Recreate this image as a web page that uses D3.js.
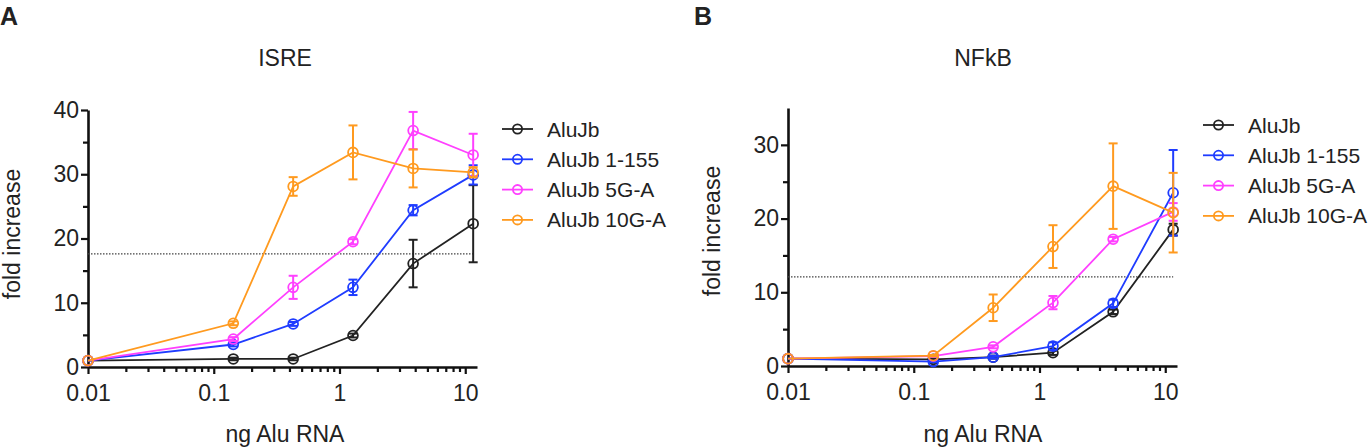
<!DOCTYPE html>
<html>
<head>
<meta charset="utf-8">
<script src="https://d3js.org/d3.v7.min.js"></script>
<style>
  body { margin: 0; background: #fff; }
  svg text { font-family: "Liberation Sans", Arial, sans-serif; fill: #222; }
</style>
</head>
<body>
<div id="chart"></div>
<script>
// dose of Alu RNA (ng), 3-fold dilutions plus the 0.01 control point
var doses = [0.01, 0.143, 0.428, 1.28, 3.85, 11.56];

var seriesNames = ['AluJb', 'AluJb 1-155', 'AluJb 5G-A', 'AluJb 10G-A'];
var seriesColors = ['#222222', '#1f3cff', '#ff40ff', '#ff9a1f'];

// ISRE panel (A)
var isreAluJb = [1, 1.25, 1.25, 4.9, 16.1, 22.3];
var isreAluJbErr = [0, 0.2, 0.2, 0.3, 3.7, 6.0];
var isre1_155 = [1, 3.5, 6.7, 12.4, 24.4, 29.9];
var isre1_155Err = [0, 0.3, 0.3, 1.2, 0.8, 1.5];
var isre5GA = [1, 4.35, 12.4, 19.5, 36.8, 33.0];
var isre5GAErr = [0, 0.3, 1.8, 0.4, 2.9, 3.3];
var isre10GA = [1, 6.8, 28.1, 33.4, 30.9, 30.3];
var isre10GAErr = [0, 0.3, 1.45, 4.2, 2.95, 0.8];
var isreCutoff = 17.6;

// NFkB panel (B)
var nfkbAluJb = [1, 0.9, 1.2, 1.8, 7.35, 18.5];
var nfkbAluJbErr = [0, 0.1, 0.2, 0.3, 0.3, 0.8];
var nfkb1_155 = [1, 0.6, 1.2, 2.7, 8.5, 23.5];
var nfkb1_155Err = [0, 0.1, 0.2, 0.5, 0.5, 5.8];
var nfkb5GA = [1, 1.35, 2.6, 8.6, 17.2, 20.9];
var nfkb5GAErr = [0, 0.1, 0.2, 0.9, 0.3, 1.2];
var nfkb10GA = [1, 1.4, 7.9, 16.2, 24.4, 20.8];
var nfkb10GAErr = [0, 0.1, 1.8, 2.9, 5.8, 5.4];
var nfkbCutoff = 12.1;

var xTickValues = [0.01, 0.1, 1, 10];
var xTickLabels = ['0.01', '0.1', '1', '10'];

var svg = d3.select("#chart")
  .append("svg")
  .attr("width", 1369)
  .attr("height", 448);

function paintPanel(opt) {
  var g = svg.append("g");

  var x = d3.scaleLog()
    .domain([0.01, 12.4])
    .range([opt.left, opt.left + 389]);
  var y = d3.scaleLinear()
    .domain([0, opt.yMax])
    .range([opt.bottom, opt.top]);

  // minor ticks first, then major axes on top
  var minorX = [];
  [0.01, 0.1, 1].forEach(function (d) {
    for (var k = 2; k <= 9; k++) minorX.push(d * k);
  });
  g.append("g")
    .attr("transform", "translate(0," + opt.bottom + ")")
    .call(d3.axisBottom(x).tickValues(minorX).tickSize(5).tickFormat(""))
    .call(function (a) { a.select(".domain").remove(); });

  var minorY = d3.range(5, opt.yMax, 10);
  g.append("g")
    .attr("transform", "translate(" + opt.left + ",0)")
    .call(d3.axisLeft(y).tickValues(minorY).tickSize(5).tickFormat(""))
    .call(function (a) { a.select(".domain").remove(); });

  var xAxis = g.append("g")
    .attr("transform", "translate(0," + opt.bottom + ")")
    .call(d3.axisBottom(x)
      .tickValues(xTickValues)
      .tickFormat(function (d, i) { return xTickLabels[i]; })
      .tickSize(7).tickSizeOuter(0).tickPadding(11));

  var yAxis = g.append("g")
    .attr("transform", "translate(" + opt.left + ",0)")
    .call(d3.axisLeft(y)
      .tickValues(opt.yTicks)
      .tickSize(7).tickSizeOuter(0).tickPadding(2));

  g.selectAll(".domain").attr("stroke", "#111").attr("stroke-width", 2.6);
  g.selectAll(".tick line").attr("stroke", "#111").attr("stroke-width", 2.2);
  g.selectAll(".tick text")
    .attr("font-size", 23)
    .attr("fill", "#222")
    .attr("font-family", '"Liberation Sans", Arial, sans-serif');

  // dotted cutoff line
  g.append("line")
    .attr("x1", x(0.01)).attr("x2", x(doses[doses.length - 1]))
    .attr("y1", y(opt.cutoff)).attr("y2", y(opt.cutoff))
    .attr("stroke", "#444")
    .attr("stroke-width", 1.2)
    .attr("stroke-dasharray", "1.5,1.5");

  opt.series.forEach(function (s, i) {
    var color = seriesColors[i];
    var pts = doses.map(function (d, j) {
      return { x: d, y: s.values[j], e: s.err[j] };
    });
    var sg = g.append("g");

    // error bars
    var eb = sg.selectAll(".err").data(pts.filter(function (p) { return p.e > 0; }))
      .enter().append("g");
    eb.append("line")
      .attr("x1", function (p) { return x(p.x); })
      .attr("x2", function (p) { return x(p.x); })
      .attr("y1", function (p) { return y(p.y - p.e); })
      .attr("y2", function (p) { return y(p.y + p.e); })
      .attr("stroke", color).attr("stroke-width", 2);
    [-1, 1].forEach(function (sign) {
      eb.append("line")
        .attr("x1", function (p) { return x(p.x) - 4.5; })
        .attr("x2", function (p) { return x(p.x) + 4.5; })
        .attr("y1", function (p) { return y(p.y + sign * p.e); })
        .attr("y2", function (p) { return y(p.y + sign * p.e); })
        .attr("stroke", color).attr("stroke-width", 2);
    });

    sg.append("path")
      .datum(pts)
      .attr("fill", "none")
      .attr("stroke", color)
      .attr("stroke-width", 1.8)
      .attr("d", d3.line()
        .x(function (p) { return x(p.x); })
        .y(function (p) { return y(p.y); }));

    sg.selectAll("circle").data(pts).enter().append("circle")
      .attr("cx", function (p) { return x(p.x); })
      .attr("cy", function (p) { return y(p.y); })
      .attr("r", 4.9)
      .attr("fill", "none")
      .attr("stroke", color)
      .attr("stroke-width", 1.8);
  });

  // titles and labels
  svg.append("text")
    .attr("x", opt.letterX).attr("y", 25)
    .attr("font-size", 25).attr("font-weight", "bold").attr("fill", "#000")
    .text(opt.letter);
  svg.append("text")
    .attr("x", opt.titleX).attr("y", 66)
    .attr("text-anchor", "middle").attr("font-size", 23)
    .text(opt.title);
  svg.append("text")
    .attr("transform", "translate(" + (opt.yLabelX) + "," + opt.yLabelY + ") rotate(-90)")
    .attr("text-anchor", "middle").attr("font-size", 23)
    .attr("dy", "0.35em")
    .text("fold increase");
  svg.append("text")
    .attr("x", opt.titleX).attr("y", 442)
    .attr("text-anchor", "middle").attr("font-size", 23)
    .text("ng Alu RNA");

  // legend
  var lg = svg.append("g");
  seriesNames.forEach(function (name, i) {
    var ly = opt.legendY + i * 30.3;
    lg.append("line")
      .attr("x1", opt.legendX).attr("x2", opt.legendX + 31)
      .attr("y1", ly).attr("y2", ly)
      .attr("stroke", seriesColors[i]).attr("stroke-width", 1.8);
    lg.append("circle")
      .attr("cx", opt.legendX + 15.5).attr("cy", ly).attr("r", 4.6)
      .attr("fill", "none").attr("stroke", seriesColors[i]).attr("stroke-width", 1.8);
    lg.append("text")
      .attr("x", opt.legendX + 45).attr("y", ly).attr("dy", "0.36em")
      .attr("font-size", 21)
      .text(name);
  });
}

paintPanel({
  letter: "A", letterX: 0, title: "ISRE", titleX: 285,
  left: 88, top: 110, bottom: 367, yMax: 40, yTicks: [0, 10, 20, 30, 40],
  cutoff: isreCutoff, yLabelX: 12, yLabelY: 234,
  legendX: 502, legendY: 129,
  series: [
    { values: isreAluJb, err: isreAluJbErr },
    { values: isre1_155, err: isre1_155Err },
    { values: isre5GA, err: isre5GAErr },
    { values: isre10GA, err: isre10GAErr }
  ]
});

paintPanel({
  letter: "B", letterX: 694, title: "NFkB", titleX: 983,
  left: 788, top: 108, bottom: 366, yMax: 35, yTicks: [0, 10, 20, 30],
  cutoff: nfkbCutoff, yLabelX: 712, yLabelY: 231,
  legendX: 1203, legendY: 125,
  series: [
    { values: nfkbAluJb, err: nfkbAluJbErr },
    { values: nfkb1_155, err: nfkb1_155Err },
    { values: nfkb5GA, err: nfkb5GAErr },
    { values: nfkb10GA, err: nfkb10GAErr }
  ]
});
</script>
</body>
</html>
